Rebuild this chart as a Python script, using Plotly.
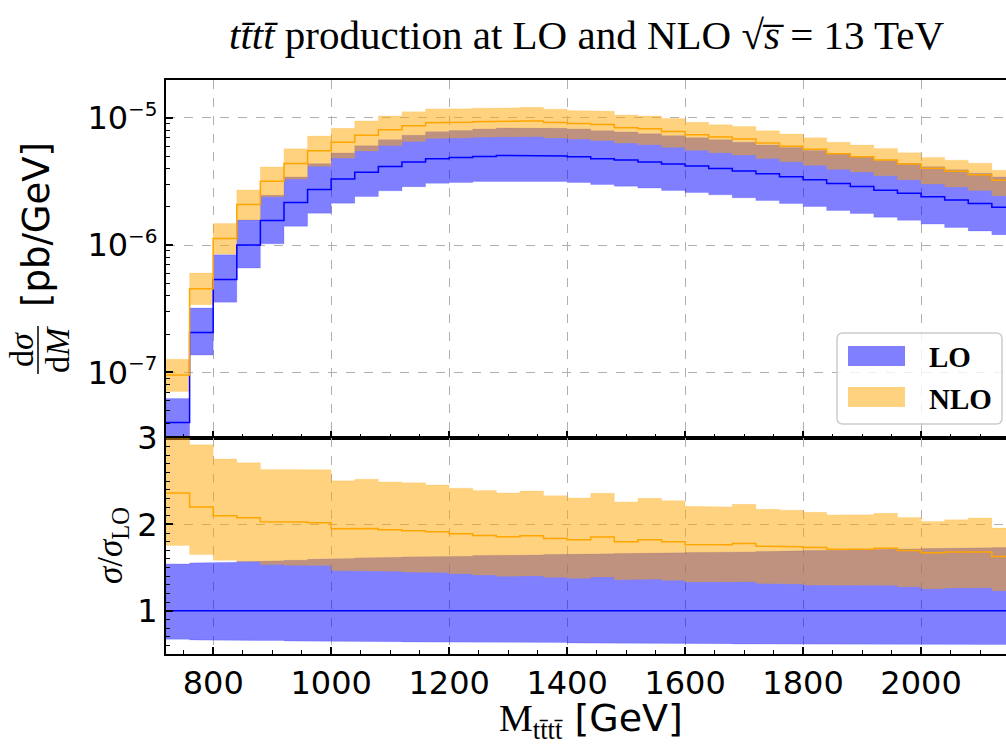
import numpy as np
import plotly.graph_objects as go

# ---------------- data ----------------
bin_edges = [720, 760, 800, 840, 880, 920, 960, 1000, 1040, 1080, 1120, 1160, 1200,
             1240, 1280, 1320, 1360, 1400, 1440, 1480, 1520, 1560, 1600, 1640, 1680,
             1720, 1760, 1800, 1840, 1880, 1920, 1960, 2000, 2040, 2080, 2120, 2160]

# LO central value, dsigma/dM [pb/GeV]
lo_central = [4.03e-8, 2.06e-7, 5.37e-7, 1.00e-6, 1.56e-6, 2.16e-6, 2.73e-6, 3.30e-6,
              3.74e-6, 4.15e-6, 4.49e-6, 4.77e-6, 4.87e-6, 4.97e-6, 5.06e-6, 5.06e-6,
              5.00e-6, 4.94e-6, 4.77e-6, 4.65e-6, 4.49e-6, 4.33e-6, 4.17e-6, 4.00e-6,
              3.82e-6, 3.63e-6, 3.44e-6, 3.26e-6, 3.05e-6, 2.89e-6, 2.70e-6, 2.55e-6,
              2.40e-6, 2.26e-6, 2.12e-6, 1.98e-6]

# everything below is relative to the LO central value (sigma / sigma_LO)
lo_up_ratio = [1.543, 1.554, 1.562, 1.570, 1.578, 1.585, 1.597, 1.605,
               1.612, 1.620, 1.624, 1.628, 1.632, 1.640, 1.643, 1.647,
               1.651, 1.655, 1.659, 1.663, 1.667, 1.671, 1.674, 1.678,
               1.682, 1.686, 1.694, 1.698, 1.702, 1.705, 1.709, 1.717,
               1.721, 1.725, 1.729, 1.733]
lo_down_ratio = [0.671, 0.663, 0.663, 0.659, 0.655, 0.651, 0.651, 0.647,
                 0.643, 0.643, 0.640, 0.640, 0.636, 0.636, 0.632, 0.632,
                 0.632, 0.628, 0.628, 0.624, 0.624, 0.620, 0.620, 0.620,
                 0.616, 0.616, 0.616, 0.616, 0.613, 0.613, 0.613, 0.613,
                 0.609, 0.609, 0.609, 0.609]
nlo_central_ratio = [2.364, 2.202, 2.101, 2.078, 2.031, 2.027, 2.019, 1.950,
                     1.953, 1.938, 1.926, 1.915, 1.891, 1.872, 1.857, 1.868,
                     1.837, 1.822, 1.853, 1.798, 1.822, 1.798, 1.767, 1.764,
                     1.779, 1.748, 1.740, 1.733, 1.713, 1.713, 1.725, 1.698,
                     1.671, 1.682, 1.682, 1.628]
nlo_up_ratio = [3.150, 2.922, 2.756, 2.713, 2.636, 2.640, 2.632, 2.504,
                2.523, 2.492, 2.481, 2.457, 2.419, 2.391, 2.364, 2.388,
                2.333, 2.306, 2.360, 2.260, 2.302, 2.275, 2.209, 2.202,
                2.233, 2.174, 2.163, 2.140, 2.109, 2.112, 2.128, 2.081,
                2.035, 2.054, 2.074, 1.957]
nlo_down_ratio = [1.756, 1.651, 1.585, 1.570, 1.535, 1.527, 1.523, 1.465,
                  1.465, 1.457, 1.450, 1.442, 1.430, 1.415, 1.399, 1.407,
                  1.388, 1.376, 1.391, 1.360, 1.368, 1.353, 1.333, 1.329,
                  1.337, 1.318, 1.310, 1.298, 1.291, 1.295, 1.295, 1.279,
                  1.256, 1.264, 1.267, 1.233]

series_names = ["LO", "NLO"]
top_tick_values = [1e-7, 1e-6, 1e-5]
top_tick_exponents = ["−7", "−6", "−5"]

# ---------------- derived ----------------
edges = np.array(bin_edges, dtype=float)
lo_c = np.array(lo_central)
lo_up = lo_c * np.array(lo_up_ratio)
lo_dn = lo_c * np.array(lo_down_ratio)
nlo_c = lo_c * np.array(nlo_central_ratio)
nlo_up = lo_c * np.array(nlo_up_ratio)
nlo_dn = lo_c * np.array(nlo_down_ratio)
lo_ratio_line = lo_c / lo_c


def step_xy(vals):
    xs = np.repeat(edges, 2)[1:-1]
    ys = np.repeat(np.asarray(vals, dtype=float), 2)
    return xs, ys


def band_xy(low, high):
    xh, yh = step_xy(high)
    xl, yl = step_xy(low)
    return np.concatenate([xh, xl[::-1]]), np.concatenate([yh, yl[::-1]])


BLUE_FILL = "rgba(0,0,255,0.5)"
ORANGE_FILL = "rgba(255,165,0,0.5)"
BLUE = "#0000ff"
ORANGE = "#ffa500"

fig = go.Figure()


def add_panel(xa, ya, lo_low, lo_high, nlo_low, nlo_high, lo_mid, nlo_mid):
    bx, by = band_xy(lo_low, lo_high)
    fig.add_trace(go.Scatter(x=bx, y=by, fill="toself", fillcolor=BLUE_FILL,
                             mode="lines", line=dict(width=0.6, color="rgba(0,0,255,0.25)"),
                             xaxis=xa, yaxis=ya, showlegend=False, hoverinfo="skip",
                             name=series_names[0]))
    bx, by = band_xy(nlo_low, nlo_high)
    fig.add_trace(go.Scatter(x=bx, y=by, fill="toself", fillcolor=ORANGE_FILL,
                             mode="lines", line=dict(width=0.6, color="rgba(255,165,0,0.25)"),
                             xaxis=xa, yaxis=ya, showlegend=False, hoverinfo="skip",
                             name=series_names[1]))
    sx, sy = step_xy(lo_mid)
    fig.add_trace(go.Scatter(x=sx, y=sy, mode="lines", line=dict(color=BLUE, width=1.5),
                             xaxis=xa, yaxis=ya, showlegend=False, name=series_names[0]))
    sx, sy = step_xy(nlo_mid)
    fig.add_trace(go.Scatter(x=sx, y=sy, mode="lines", line=dict(color=ORANGE, width=1.5),
                             xaxis=xa, yaxis=ya, showlegend=False, name=series_names[1]))


add_panel("x", "y", lo_dn, lo_up, nlo_dn, nlo_up, lo_c, nlo_c)
add_panel("x2", "y2", np.array(lo_down_ratio), np.array(lo_up_ratio),
          np.array(nlo_down_ratio), np.array(nlo_up_ratio),
          lo_ratio_line, np.array(nlo_central_ratio))

# ---------------- layout ----------------
W, H = 1006, 744
ML, MR, MT, MB = 166, 0, 80, 90
PW, PH = W - ML - MR, H - MT - MB
SPLIT_PX = 438
split = (MT + PH - SPLIT_PX) / PH


def pxx(px):          # page pixel -> paper x
    return (px - ML) / PW


def pxy(py):          # page pixel -> paper y
    return (MT + PH - py) / PH


GRID = "#b0b0b0"
TICKFONT = dict(family="DejaVu Sans", size=32, color="black")

common_x = dict(range=[720, 2144], tick0=0, dtick=200, ticks="inside", ticklen=7,
                tickwidth=1.5, tickcolor="black", showline=True, linewidth=2,
                linecolor="black", mirror=True, showgrid=True, gridcolor=GRID,
                griddash="dash", gridwidth=1, zeroline=False,
                minor=dict(ticks="inside", ticklen=4, tickwidth=1, dtick=50,
                           tickcolor="black", showgrid=False))

top_ticktext = [f"10<sup><span style='font-size:20px'>{e}</span></sup>"
                for e in top_tick_exponents]

fig.update_layout(
    width=W, height=H,
    margin=dict(l=ML, r=MR, t=MT, b=MB, autoexpand=False),
    paper_bgcolor="white", plot_bgcolor="white",
    font=dict(family="DejaVu Sans", color="black"),
    showlegend=False,
    xaxis=dict(domain=[0, 1], anchor="y", showticklabels=False, matches="x2", **common_x),
    xaxis2=dict(domain=[0, 1], anchor="y2", tickfont=TICKFONT, **common_x),
    yaxis=dict(domain=[split, 1], anchor="x", type="log",
               range=[np.log10(3.05e-8), np.log10(1.98e-5)],
               tickmode="array", tickvals=top_tick_values, ticktext=top_ticktext,
               tickfont=TICKFONT,
               ticks="inside", ticklen=7, tickwidth=1.5, tickcolor="black",
               showline=True, linewidth=2, linecolor="black", mirror=False,
               showgrid=True, gridcolor=GRID, griddash="dash", gridwidth=1,
               zeroline=False,
               minor=dict(ticks="inside", ticklen=4, tickwidth=1, dtick="D1",
                          tickcolor="black", showgrid=False)),
    yaxis2=dict(domain=[0, split], anchor="x2", range=[0.5, 3], dtick=1, tick0=0,
                tickfont=TICKFONT, ticks="inside", ticklen=7, tickwidth=1.5,
                tickcolor="black", showline=True, linewidth=2, linecolor="black",
                mirror=False, showgrid=True, gridcolor=GRID, griddash="dash",
                gridwidth=1, zeroline=False,
                minor=dict(ticks="inside", ticklen=4, tickwidth=1, dtick=0.1,
                           tickcolor="black", showgrid=False)),
)

SERIF = "Liberation Serif"
ann = []
# title
ann.append(dict(xref="paper", yref="paper", x=pxx(586), y=pxy(35), xanchor="center",
                yanchor="middle", showarrow=False,
                text="<i>tt\u0304tt\u0304</i> production at LO and NLO \u221a<i>s\u0305</i> = 13 TeV",
                font=dict(family=SERIF, size=41, color="black")))
# x label
ann.append(dict(xref="paper", yref="paper", x=pxx(591), y=pxy(720), xanchor="center",
                yanchor="middle", showarrow=False,
                text="<span style='font-family:Liberation Serif'>M<sub>tt\u0304tt\u0304</sub></span> [GeV]",
                font=dict(family="DejaVu Sans", size=38, color="black")))
# top y label: [pb/GeV]
ann.append(dict(xref="paper", yref="paper", x=pxx(36), y=pxy(225), xanchor="center",
                yanchor="middle", showarrow=False, textangle=-90, text="[pb/GeV]",
                font=dict(family="DejaVu Sans", size=37, color="black")))
# fraction d sigma / d M
ann.append(dict(xref="paper", yref="paper", x=pxx(21), y=pxy(350), xanchor="center",
                yanchor="middle", showarrow=False, textangle=-90, text="d<i>σ</i>",
                font=dict(family=SERIF, size=34, color="black")))
ann.append(dict(xref="paper", yref="paper", x=pxx(57), y=pxy(349), xanchor="center",
                yanchor="middle", showarrow=False, textangle=-90, text="d<i>M</i>",
                font=dict(family=SERIF, size=34, color="black")))
# bottom y label
ann.append(dict(xref="paper", yref="paper", x=pxx(112), y=pxy(546), xanchor="center",
                yanchor="middle", showarrow=False, textangle=-90,
                text="<i>σ</i>/<i>σ</i><sub>LO</sub>",
                font=dict(family=SERIF, size=35, color="black")))
# legend texts
ann.append(dict(xref="paper", yref="paper", x=pxx(927), y=pxy(357), xanchor="left",
                yanchor="middle", showarrow=False, text="<b>LO</b>",
                font=dict(family=SERIF, size=29, color="black")))
ann.append(dict(xref="paper", yref="paper", x=pxx(927), y=pxy(399), xanchor="left",
                yanchor="middle", showarrow=False, text="<b>NLO</b>",
                font=dict(family=SERIF, size=29, color="black")))
fig.update_layout(annotations=ann)

# legend frame (rounded) and patches, fraction bar
x0, x1, y0, y1 = pxx(837), pxx(1002), pxy(424), pxy(333)
rx, ry = 6 / PW, 6 / PH
path = (f"M {x0+rx},{y1} L {x1-rx},{y1} Q {x1},{y1} {x1},{y1-ry} "
        f"L {x1},{y0+ry} Q {x1},{y0} {x1-rx},{y0} L {x0+rx},{y0} "
        f"Q {x0},{y0} {x0},{y0+ry} L {x0},{y1-ry} Q {x0},{y1} {x0+rx},{y1} Z")
shapes = [
    dict(type="path", xref="paper", yref="paper", path=path,
         fillcolor="rgba(255,255,255,0.8)", line=dict(color="#cccccc", width=1.5),
         layer="above"),
    dict(type="rect", xref="paper", yref="paper", x0=pxx(848), x1=pxx(905),
         y0=pxy(366), y1=pxy(346), fillcolor=BLUE_FILL, line=dict(width=0),
         layer="above"),
    dict(type="rect", xref="paper", yref="paper", x0=pxx(848), x1=pxx(905),
         y0=pxy(407), y1=pxy(387), fillcolor=ORANGE_FILL, line=dict(width=0),
         layer="above"),
    dict(type="line", xref="paper", yref="paper", x0=pxx(38), x1=pxx(38),
         y0=pxy(326), y1=pxy(374), line=dict(color="black", width=1.5)),
]
fig.update_layout(shapes=shapes)

fig.write_html("out.html",
               config={"displayModeBar": False},
               post_script="document.body.style.margin='0px';"
                           "document.body.style.overflow='hidden';")
